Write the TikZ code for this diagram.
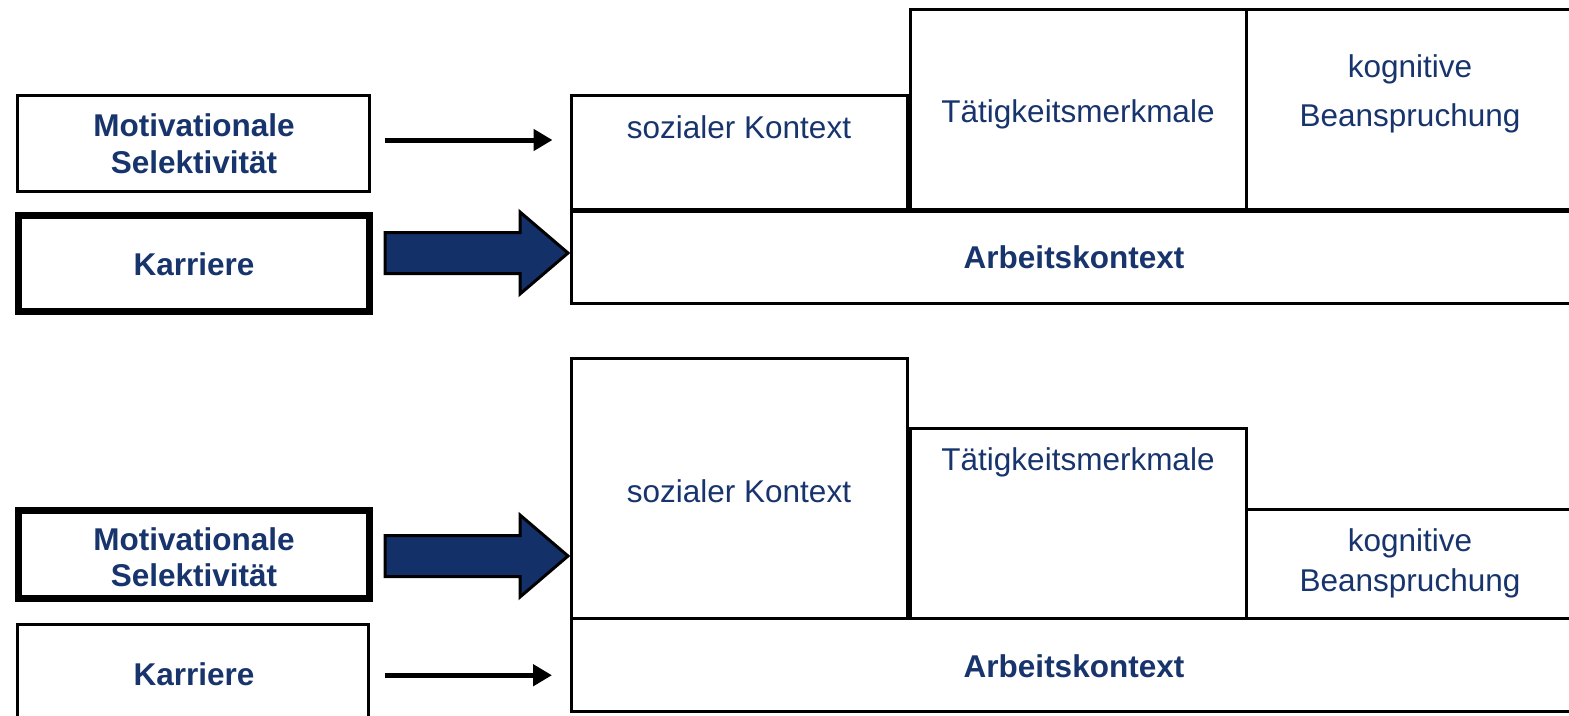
\documentclass[tikz,border=0pt]{standalone}
\usepackage{fontspec}
\setmainfont{Liberation Sans}
\usetikzlibrary{fit,calc,arrows.meta}
\definecolor{navy}{RGB}{24,52,108}
\definecolor{arrowfill}{RGB}{20,48,104}
\begin{document}
\begin{tikzpicture}[x=1pt,y=-1pt,
  box/.style={draw=black, line width=3pt, inner sep=0pt, outer sep=0pt},
  thickbox/.style={box, line width=7pt},
  txt/.style={text=navy, inner sep=0pt, anchor=base, align=center,
    font=\fontsize{31.5}{37}\selectfont},
  boldtxt/.style={txt, font=\fontsize{31.5}{37}\selectfont\bfseries},
  thinarrow/.style={line width=5pt, -{Triangle[length=19pt,width=21pt]}},
  bigarrow/.style={draw=black, fill=arrowfill, line width=3pt, line join=miter}]
\useasboundingbox (0,0) rectangle (1569,715);
\fill[white] (0,0) rectangle (1569,715);
\clip (0,0) rectangle (1569,715);

% ---------- upper model ----------
\node[box, fit={(17,95) (369,191)}] (mot1) {};
\node[thickbox, fit={(18,215.5) (369.5,311.5)}] (kar1) {};
\node[box, fit={(571.5,95.5) (907.5,209.5)}] (soz1) {};
\node[box, fit={(910,9.5) (1246,209.5)}] (tat1) {};
\node[box, fit={(1246,9.5) (1600,209.5)}] (kog1) {};
\node[box, fit={(571,211) (1600,303)}] (arb1) {};

% multi-line labels are placed by the baseline of their last line
\node[boldtxt] (mot1t) at (194,173.7) {Motivationale\\Selektivität};
\node[boldtxt] (kar1t) at (194,275) {Karriere};
\node[txt] (soz1t) at (739,138.5) {sozialer Kontext};
\node[txt] (tat1t) at (1078,122) {Tätigkeitsmerkmale};
\node[txt, font=\fontsize{31.5}{49}\selectfont] (kog1t) at (1410,126) {kognitive\\Beanspruchung};
\node[boldtxt] (arb1t) at (1074,268) {Arbeitskontext};

\draw[thinarrow] ($(mot1.east)+(16,-3)$) -- ($(soz1.west |- mot1.east)+(-19,-3)$);
\coordinate (tip1) at ($(arb1.west)+(-3,-4)$);
\draw[bigarrow] (tip1) -- ++(-48,-41) -- ++(0,20.5) -- ++(-135,0) -- ++(0,41)
  -- ++(135,0) -- ++(0,20.5) -- cycle;

% ---------- lower model ----------
\node[thickbox, fit={(18,510.5) (369.5,598.5)}] (mot2) {};
\node[box, fit={(17.5,624.5) (368.5,730)}] (kar2) {};
\node[box, fit={(571.5,358.5) (907.5,618)}] (soz2) {};
\node[box, fit={(910,428.5) (1246,618)}] (tat2) {};
\node[box, fit={(1246,509) (1600,618)}] (kog2) {};
\node[box, fit={(571,618) (1600,711)}] (arb2) {};

\node[boldtxt, font=\fontsize{31.5}{36.7}\selectfont\bfseries] (mot2t) at (194,586.7) {Motivationale\\Selektivität};
\node[boldtxt] (kar2t) at (194,685) {Karriere};
\node[txt] (soz2t) at (739,502) {sozialer Kontext};
\node[txt] (tat2t) at (1078,470.5) {Tätigkeitsmerkmale};
\node[txt, font=\fontsize{31.5}{40}\selectfont] (kog2t) at (1410,591) {kognitive\\Beanspruchung};
\node[boldtxt] (arb2t) at (1074,677) {Arbeitskontext};

\draw[thinarrow] ($(kar2.east)+(16,-2)$) -- ($(arb2.west |- kar2.east)+(-19,-2)$);
\coordinate (tip2) at ($(soz2.west |- mot2.east)+(-3.5,1.5)$);
\draw[bigarrow] (tip2) -- ++(-48,-41) -- ++(0,20.5) -- ++(-135,0) -- ++(0,41)
  -- ++(135,0) -- ++(0,20.5) -- cycle;
\end{tikzpicture}
\end{document}
